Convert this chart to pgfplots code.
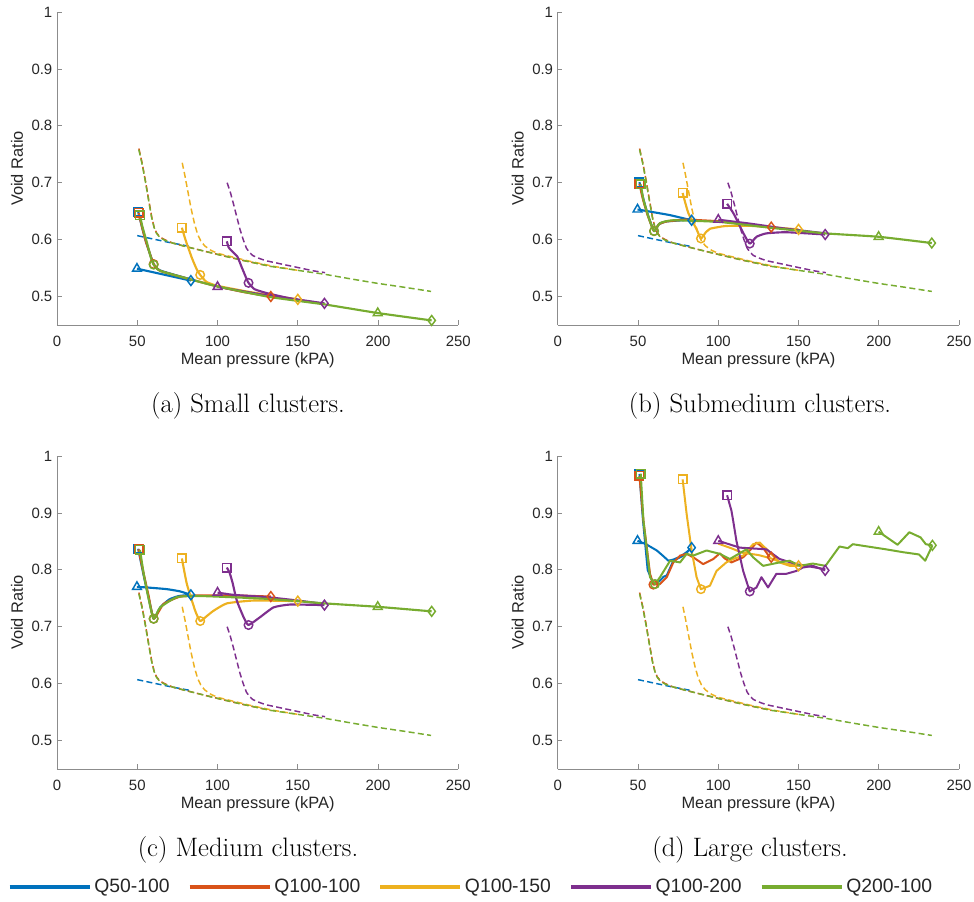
\documentclass[border=0pt]{standalone}
\usepackage{pgfplots}
\pgfplotsset{compat=1.18}
\usepackage{fontspec}
\newfontfamily\asf{Liberation Sans}
\definecolor{cB}{HTML}{0072BD}
\definecolor{cR}{HTML}{D95319}
\definecolor{cY}{HTML}{EDB120}
\definecolor{cP}{HTML}{7E2F8E}
\definecolor{cG}{HTML}{77AC30}
\definecolor{axc}{HTML}{8C8C8C}
\definecolor{txc}{HTML}{262626}
\pgfplotsset{
  panel/.style={
    scale only axis, width=301pt, height=234.75pt,
    xmin=0, xmax=250, ymin=0.45, ymax=1,
    axis x line*=bottom, axis y line*=left,
    axis line style={-, axc, line width=0.6pt},
    xtick={0,50,100,150,200,250}, ytick={0.5,0.6,0.7,0.8,0.9,1},
    yticklabels={0.5,0.6,0.7,0.8,0.9,1},
    tick align=inside, major tick length=3.5pt,
    every tick/.style={axc, line width=0.6pt},
    /pgf/number format/assume math mode=true,
    tick label style={font=\asf\fontsize{11.2}{13}\selectfont, text=txc},
    xticklabel style={yshift=-4.5pt},
    xlabel={Mean pressure (kPA)}, ylabel={Void Ratio},
    every axis x label/.style={at={(axis description cs:0.5,-0.1118)}, anchor=center, font=\asf\fontsize{12.3}{14}\selectfont, text=txc},
    every axis y label/.style={at={(axis description cs:-0.0998,0.5)}, rotate=90, anchor=center, font=\asf\fontsize{12.3}{14}\selectfont, text=txc},
    clip=false,
  },
  sl/.style={color=#1, line width=1.6pt, mark=none, smooth, tension=0.3, line join=round},
  jl/.style={color=#1, line width=1.5pt, mark=none, line join=round},
  ds/.style={color=#1, line width=1.1pt, mark=none, dash pattern=on 4.5pt off 2.5pt},
}
\newcommand{\mk}[4][3.2pt]{\addplot[only marks, mark=#3, color=#2, mark size=#1, mark options={solid, line width=1.1pt}] coordinates {#4};}
\newcommand{\dashedset}{%
\addplot[ds=cB] coordinates {(50,0.607) (60,0.601) (70,0.595) (83,0.588)};
\addplot[ds=cR] coordinates {(51,0.760) (53,0.735) (55,0.705) (57,0.672) (59,0.640) (60.5,0.622) (62,0.612) (64,0.605) (67,0.600) (72,0.594) (80,0.588) (90,0.581) (100,0.574) (115,0.564) (133,0.553)};
\addplot[ds=cY] coordinates {(78,0.735) (79.5,0.715) (81.5,0.685) (83.5,0.655) (85.5,0.630) (87.5,0.610) (89.5,0.598) (92,0.589) (96,0.581) (100,0.576) (110,0.569) (120,0.562) (135,0.553) (150,0.546)};
\addplot[ds=cP] coordinates {(106,0.700) (108,0.683) (110,0.662) (112,0.640) (114,0.618) (116,0.600) (118,0.585) (120,0.577) (122,0.572) (126,0.567) (130,0.563) (140,0.557) (150,0.551) (160,0.545) (167,0.542)};
\addplot[ds=cG] coordinates {(51,0.758) (53,0.733) (55,0.703) (57,0.670) (59,0.638) (60.5,0.621) (62,0.611) (64,0.604) (67,0.599) (72,0.594) (80,0.588) (90,0.581) (100,0.574) (115,0.564) (133,0.553) (150,0.546) (167,0.539) (183,0.531) (200,0.523) (217,0.516) (233,0.509)};
}
\begin{document}
\begin{tikzpicture}
\path[use as bounding box] (0pt,0pt) rectangle (730.5pt,676.5pt);
% ---------------- (a)
\begin{axis}[panel, at={(42.75pt,432.75pt)}, anchor=south west]
\dashedset
\addplot[sl=cB] coordinates {(49.8,0.549) (83.4,0.528)};
\mk[3.8pt]{cB}{triangle}{(49.8,0.549)} \mk[3.7pt]{cB}{diamond}{(83.4,0.528)}
\addplot[sl=cB] coordinates {(50.6,0.649) (55,0.600) (60.2,0.557) (64,0.546) (83.4,0.530)};
\mk{cB}{square}{(50.6,0.649)}
\addplot[sl=cR] coordinates {(50.8,0.647) (55,0.600) (60.2,0.557) (64.3,0.545) (83.4,0.530) (99.6,0.518) (116,0.508) (133.2,0.500)};
\mk{cR}{square}{(50.8,0.647)} \mk{cR}{o}{(60.2,0.557)} \mk[3.7pt]{cR}{diamond}{(133.2,0.500)}
\addplot[sl=cY] coordinates {(77.8,0.621) (80,0.600) (84,0.568) (87,0.548) (89.2,0.538) (93,0.526) (99.6,0.519) (120,0.508) (150,0.495)};
\mk{cY}{square}{(77.8,0.621)} \mk{cY}{o}{(89.2,0.538)} \mk[3.7pt]{cY}{diamond}{(150,0.495)}
\addplot[sl=cP] coordinates {(105.8,0.597) (107,0.586) (110,0.577) (112.4,0.570) (115,0.552) (117.5,0.535) (119.3,0.524) (123,0.513) (130.7,0.506) (145,0.497) (166.6,0.488)};
\mk{cP}{square}{(105.8,0.597)} \mk{cP}{o}{(119.3,0.524)} \mk[3.7pt]{cP}{diamond}{(166.6,0.488)}
\addplot[sl=cP] coordinates {(100,0.517) (133,0.501) (166.6,0.487)};
\mk[3.8pt]{cP}{triangle}{(100,0.517)}
\addplot[sl=cG] coordinates {(51.7,0.643) (53,0.625) (56,0.595) (58.5,0.568) (60.2,0.556) (64.3,0.545) (83.4,0.530) (99.6,0.518) (133,0.499) (167,0.486) (199.8,0.471) (233.4,0.458)};
\mk{cG}{square}{(51.7,0.643)} \mk{cG}{o}{(60.2,0.556)} \mk[3.8pt]{cG}{triangle}{(199.8,0.471)} \mk[3.7pt]{cG}{diamond}{(233.4,0.458)}
\end{axis}
% ---------------- (b)
\begin{axis}[panel, at={(418.3pt,432.75pt)}, anchor=south west]
\dashedset
\addplot[sl=cB] coordinates {(49.7,0.653) (60,0.648) (70,0.643) (83.4,0.634)};
\mk[3.8pt]{cB}{triangle}{(49.7,0.653)} \mk[3.7pt]{cB}{diamond}{(83.4,0.634)}
\addplot[sl=cB] coordinates {(50.9,0.701) (53,0.675) (56,0.645) (60,0.615) (63,0.627) (68,0.632) (83.4,0.635)};
\mk{cB}{square}{(50.9,0.701)}
\addplot[sl=cR] coordinates {(50.9,0.698) (53,0.672) (56,0.643) (60,0.615) (63,0.627) (68,0.632) (80.3,0.635) (101,0.632) (133,0.622)};
\mk{cR}{square}{(50.9,0.698)} \mk{cR}{o}{(60,0.615)} \mk[3.7pt]{cR}{diamond}{(133,0.622)}
\addplot[sl=cY] coordinates {(77.8,0.682) (81.3,0.647) (86.5,0.618) (89.2,0.602) (92,0.612) (94.8,0.619) (100,0.622) (105,0.624) (121.7,0.624) (150,0.618)};
\mk{cY}{square}{(77.8,0.682)} \mk{cY}{o}{(89.2,0.602)} \mk[3.7pt]{cY}{diamond}{(150,0.618)}
\addplot[sl=cP] coordinates {(105.5,0.663) (109.3,0.647) (112,0.632) (115.5,0.612) (119.6,0.593) (123.8,0.605) (130,0.611) (142.4,0.613) (166.6,0.609)};
\mk{cP}{square}{(105.5,0.663)} \mk{cP}{o}{(119.6,0.593)} \mk[3.7pt]{cP}{diamond}{(166.6,0.609)}
\addplot[sl=cP] coordinates {(100,0.635) (120,0.628) (140,0.620) (166.6,0.611)};
\mk[3.8pt]{cP}{triangle}{(100,0.635)}
\addplot[sl=cG] coordinates {(51.7,0.697) (53.4,0.670) (56.5,0.640) (60,0.615) (63.7,0.629) (72,0.634) (101,0.631) (132,0.621) (166.8,0.611) (199.9,0.605) (233,0.594)};
\mk{cG}{square}{(51.7,0.697)} \mk{cG}{o}{(60,0.615)} \mk[3.8pt]{cG}{triangle}{(199.9,0.605)} \mk[3.7pt]{cG}{diamond}{(233,0.594)}
\end{axis}
% ---------------- (c)
\begin{axis}[panel, at={(42.75pt,99.75pt)}, anchor=south west]
\dashedset
\addplot[sl=cB] coordinates {(49.8,0.770) (56,0.769) (68.5,0.766) (76.8,0.762) (83.4,0.756)};
\mk[3.8pt]{cB}{triangle}{(49.8,0.770)} \mk[3.7pt]{cB}{diamond}{(83.4,0.756)}
\addplot[sl=cB] coordinates {(50.6,0.837) (54,0.790) (57,0.752) (60.2,0.714) (64.3,0.734) (70,0.748) (76,0.754) (83.4,0.756)};
\mk{cB}{square}{(50.6,0.837)}
\addplot[sl=cR] coordinates {(50.8,0.836) (54,0.793) (57,0.755) (60.2,0.714) (66.4,0.740) (76.8,0.753) (89.2,0.755) (110,0.755) (133.2,0.753)};
\mk{cR}{square}{(50.8,0.836)} \mk{cR}{o}{(60.2,0.714)} \mk[3.7pt]{cR}{diamond}{(133.2,0.753)}
\addplot[sl=cY] coordinates {(77.8,0.820) (80.9,0.775) (86.1,0.728) (89.2,0.710) (93,0.718) (97.5,0.728) (105.8,0.741) (122.4,0.746) (150,0.745)};
\mk{cY}{square}{(77.8,0.820)} \mk{cY}{o}{(89.2,0.710)} \mk[3.7pt]{cY}{diamond}{(150,0.745)}
\addplot[sl=cP] coordinates {(105.8,0.804) (107.5,0.795) (109.3,0.778) (112,0.746) (116.2,0.717) (119.3,0.703) (126.6,0.717) (134.9,0.734) (145.2,0.739) (166.6,0.738)};
\mk{cP}{square}{(105.8,0.804)} \mk{cP}{o}{(119.3,0.703)} \mk[3.7pt]{cP}{diamond}{(166.6,0.738)}
\addplot[sl=cP] coordinates {(100,0.760) (110,0.756) (130.7,0.752) (150,0.746) (166.6,0.740)};
\mk[3.8pt]{cP}{triangle}{(100,0.760)}
\addplot[sl=cG] coordinates {(51.7,0.835) (54,0.793) (57,0.750) (60.2,0.714) (64.3,0.734) (74.7,0.752) (89.2,0.754) (130.7,0.749) (167,0.741) (199.8,0.735) (233.4,0.727)};
\mk{cG}{square}{(51.7,0.835)} \mk{cG}{o}{(60.2,0.714)} \mk[3.8pt]{cG}{triangle}{(199.8,0.735)} \mk[3.7pt]{cG}{diamond}{(233.4,0.727)}
\end{axis}
% ---------------- (d)
\begin{axis}[panel, at={(418.3pt,99.75pt)}, anchor=south west]
\dashedset
\addplot[jl=cB] coordinates {(49.7,0.851) (55,0.845) (61.7,0.834) (65,0.826) (68.9,0.816) (72,0.818) (76.2,0.823) (80.3,0.831) (83.4,0.839)};
\mk[3.8pt]{cB}{triangle}{(49.7,0.851)} \mk[3.7pt]{cB}{diamond}{(83.4,0.839)}
\addplot[jl=cB] coordinates {(50.9,0.968) (53,0.89) (56,0.80) (59.6,0.775) (63.7,0.781) (66,0.788) (67.9,0.790) (72,0.816) (78.2,0.825) (82.4,0.836)};
\mk{cB}{square}{(50.9,0.968)}
\addplot[jl=cR] coordinates {(50.9,0.965) (53.4,0.886) (57.5,0.793) (59.6,0.774) (63.7,0.775) (67.9,0.787) (72,0.813) (76.2,0.825) (80.3,0.828) (84.4,0.822) (90.6,0.810) (96.9,0.819) (101,0.829) (104,0.820) (108.2,0.813) (115.5,0.822) (120,0.835) (123.8,0.848) (127.9,0.839) (132,0.822)};
\mk{cR}{square}{(50.9,0.965)} \mk{cR}{o}{(59.6,0.774)} \mk[3.7pt]{cR}{diamond}{(133,0.822)}
\addplot[jl=cY] coordinates {(77.8,0.959) (80.3,0.898) (83.4,0.834) (86.5,0.787) (89.2,0.766) (94.8,0.772) (98.9,0.798) (105,0.813) (109.3,0.819) (115.5,0.825) (121.7,0.845) (125.8,0.848) (132,0.831) (138.2,0.813) (144.5,0.807) (150,0.807)};
\mk{cY}{square}{(77.8,0.959)} \mk{cY}{o}{(89.2,0.766)} \mk[3.7pt]{cY}{diamond}{(150,0.807)}
\addplot[jl=cY] coordinates {(100,0.846) (108,0.838) (115,0.830) (125,0.826) (133,0.820) (140,0.812) (150,0.807)};
\addplot[jl=cP] coordinates {(105.5,0.931) (108.2,0.904) (109.3,0.886) (111.3,0.851) (115.5,0.798) (119.6,0.762) (123.8,0.769) (126.9,0.787) (131,0.769) (136.2,0.793) (142.4,0.793) (148.6,0.798) (152.7,0.804) (158.9,0.807) (166.6,0.799)};
\mk{cP}{square}{(105.5,0.931)} \mk{cP}{o}{(119.6,0.762)} \mk[3.7pt]{cP}{diamond}{(166.6,0.799)}
\addplot[jl=cP] coordinates {(100,0.851) (113.4,0.839) (130,0.836) (138.2,0.819) (148.6,0.810) (166.6,0.801)};
\mk[3.8pt]{cP}{triangle}{(100,0.851)}
\addplot[jl=cG] coordinates {(51.7,0.969) (53.4,0.886) (57.5,0.787) (60.6,0.775) (63.7,0.787) (70,0.816) (76.2,0.813) (80.3,0.828) (84.4,0.825) (92.7,0.834) (101,0.828) (107.2,0.819) (117.5,0.836) (121.7,0.822) (127.9,0.807) (138.2,0.813) (144.5,0.816) (150.7,0.807) (158.9,0.811) (166.8,0.807) (171.4,0.825) (175.5,0.841) (180.7,0.838) (183.8,0.845) (204.5,0.836) (215,0.831) (225,0.827) (228.9,0.816) (233.4,0.843)};
\addplot[jl=cG] coordinates {(199.9,0.867) (211.7,0.844) (219,0.866) (226,0.857) (229.3,0.845) (233.4,0.843)};
\mk{cG}{square}{(51.7,0.969)} \mk{cG}{o}{(60.6,0.775)} \mk[3.8pt]{cG}{triangle}{(199.9,0.867)} \mk[3.7pt]{cG}{diamond}{(233.4,0.843)}
\end{axis}
% ---------------- captions
\node[font=\fontsize{20}{24}\selectfont] at (186pt,372pt) {(a) Small clusters.};
\node[font=\fontsize{20}{24}\selectfont] at (570pt,372pt) {(b) Submedium clusters.};
\node[font=\fontsize{20}{24}\selectfont] at (186pt,39pt) {(c) Medium clusters.};
\node[font=\fontsize{20}{24}\selectfont] at (562.5pt,39pt) {(d) Large clusters.};
% ---------------- legend
\begin{axis}[at={(5.6pt,11.25pt)}, anchor=west, hide axis, scale only axis, width=1pt, height=1pt,
  xmin=0, xmax=1, ymin=0, ymax=1,
  legend columns=5,
  legend style={at={(0,0.5)}, anchor=west, draw=none, fill=none, inner sep=0pt,
    font=\asf\fontsize{14.5}{16}\selectfont, text=txc,
    /tikz/every even column/.append style={column sep=11.5pt}},
  legend image code/.code={\draw[#1, line width=3pt] (0pt,0pt) -- (60pt,0pt);}]
\addlegendimage{cB}\addlegendentry{Q50-100}
\addlegendimage{cR}\addlegendentry{Q100-100}
\addlegendimage{cY}\addlegendentry{Q100-150}
\addlegendimage{cP}\addlegendentry{Q100-200}
\addlegendimage{cG}\addlegendentry{Q200-100}
\end{axis}
\end{tikzpicture}
\end{document}
